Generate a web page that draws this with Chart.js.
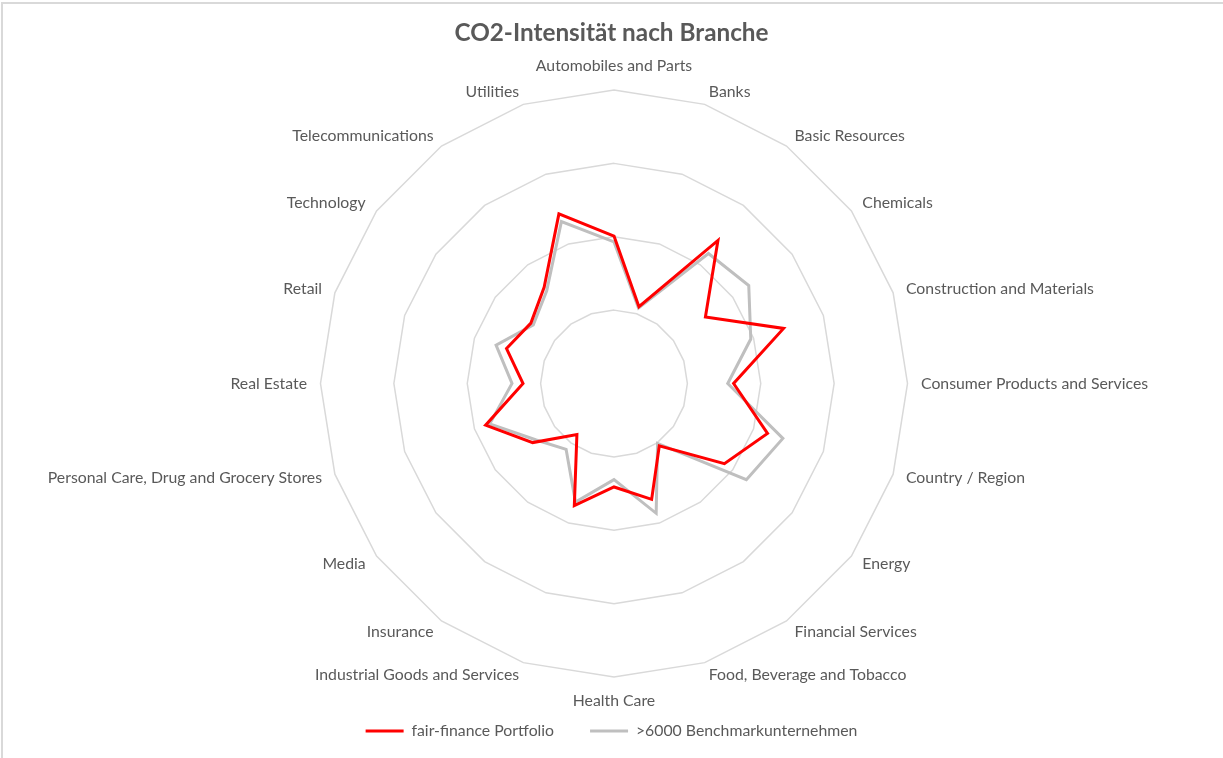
<!DOCTYPE html>
<html>
<head>
<meta charset="utf-8">
<title>CO2-Intensität nach Branche</title>
<script src="https://cdn.jsdelivr.net/npm/chart.js@4/dist/chart.umd.min.js"></script>
<style>
  html, body { margin: 0; padding: 0; background: #fff; }
  #wrap { width: 1223px; height: 758px; position: relative; }
</style>
</head>
<body>
<div id="wrap"><canvas id="radarChart"></canvas></div>
<script>
  // categories, clockwise from the top
  const branches = [
    "Automobiles and Parts", "Banks", "Basic Resources", "Chemicals",
    "Construction and Materials", "Consumer Products and Services",
    "Country / Region", "Energy", "Financial Services",
    "Food, Beverage and Tobacco", "Health Care", "Industrial Goods and Services",
    "Insurance", "Media", "Personal Care, Drug and Grocery Stores",
    "Real Estate", "Retail", "Technology", "Telecommunications", "Utilities"
  ];

  // values (in grid ring units)
  const portfolio = [2.01, 1.10, 2.41, 1.54, 2.43, 1.63, 2.20, 1.86, 1.05, 1.66,
                     1.41, 1.75, 0.86, 1.37, 1.84, 1.24, 1.54, 1.40, 1.62, 2.43];
  const benchmark = [1.93, 1.08, 2.19, 2.27, 1.96, 1.55, 2.42, 2.23, 1.01, 1.86,
                     1.31, 1.70, 1.11, 1.31, 1.78, 1.39, 1.69, 1.36, 1.56, 2.32];

  const seriesNames = ["fair-finance Portfolio", ">6000 Benchmarkunternehmen"];
  const axisMax = 4;

  const textColor = "#595959";
  const gridColor = "#d9d9d9";
  const labelFont = "Lato, 'Liberation Sans', sans-serif";

  // Excel-like point labels, drawn next to the outer ring vertices
  const pointLabelPlugin = {
    id: "pointLabelPlugin",
    afterDraw(chart) {
      const scale = chart.scales.r;
      const ctx = chart.ctx;
      ctx.save();
      ctx.font = "15.8px " + labelFont;
      ctx.fillStyle = textColor;
      ctx.textBaseline = "middle";
      branches.forEach((name, i) => {
        const p = scale.getPointPosition(i, scale.drawingArea);
        const ang = scale.getIndexAngle(i);
        const s = Math.sin(ang), c = Math.cos(ang);
        if (Math.abs(s) < 0.01) {
          ctx.textAlign = "center";
          ctx.fillText(name, p.x, p.y - (c > 0 ? 24 : -24));
        } else {
          ctx.textAlign = s > 0 ? "left" : "right";
          ctx.fillText(name, p.x + 13.5 * s, p.y - 13 * c);
        }
      });
      ctx.restore();
    }
  };

  // thin frame on top and left like the cropped Excel chart
  const framePlugin = {
    id: "framePlugin",
    beforeDraw(chart) {
      const ctx = chart.ctx;
      ctx.save();
      ctx.strokeStyle = gridColor;
      ctx.lineWidth = 2;
      ctx.beginPath();
      ctx.moveTo(2, chart.height);
      ctx.lineTo(2, 3);
      ctx.lineTo(chart.width, 3);
      ctx.stroke();
      ctx.restore();
    }
  };

  const ctx = document.getElementById("radarChart").getContext("2d");
  new Chart(ctx, {
    type: "radar",
    data: {
      labels: branches,
      datasets: [
        {
          label: seriesNames[0],
          data: portfolio,
          borderColor: "#ff0000",
          backgroundColor: "#ff0000",
          borderWidth: 3,
          pointRadius: 0,
          fill: false
        },
        {
          label: seriesNames[1],
          data: benchmark,
          borderColor: "#bfbfbf",
          backgroundColor: "#bfbfbf",
          borderWidth: 3,
          pointRadius: 0,
          fill: false
        }
      ]
    },
    options: {
      responsive: true,
      maintainAspectRatio: false,
      animation: false,
      layout: { padding: { top: 0, bottom: 9, left: 0, right: 0 } },
      elements: { line: { tension: 0, borderJoinStyle: "miter" } },
      plugins: {
        title: {
          display: true,
          text: "CO2-Intensität nach Branche",
          color: textColor,
          font: { family: labelFont, size: 24.3, weight: "bold" },
          padding: { top: 19, bottom: 0 }
        },
        legend: {
          position: "bottom",
          labels: {
            color: textColor,
            font: { family: labelFont, size: 15.8 },
            usePointStyle: true,
            pointStyle: "line",
            pointStyleWidth: 38,
            padding: 36
          }
        },
        tooltip: { enabled: false }
      },
      scales: {
        r: {
          min: 0,
          max: axisMax,
          ticks: { display: false, stepSize: 1 },
          grid: { color: gridColor, lineWidth: 1.5, circular: false },
          angleLines: { display: false },
          pointLabels: { display: false },
          afterFit(scale) {
            scale.xCenter = 614;
            scale.yCenter = 383.5;
            scale.drawingArea = 293.5;
          }
        }
      }
    },
    plugins: [pointLabelPlugin, framePlugin]
  });
</script>
</body>
</html>
